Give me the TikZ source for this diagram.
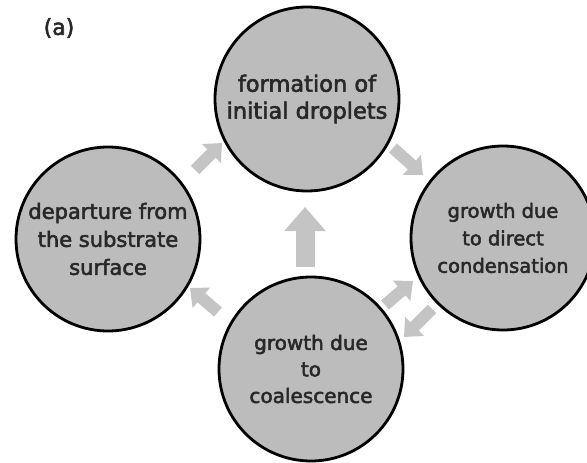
\documentclass[tikz,border=0pt]{standalone}
\usepackage{fontspec}
\setmainfont{DejaVu Sans}[FakeBold=2.5]
\usetikzlibrary{arrows.meta}
\definecolor{circfill}{RGB}{188,188,188}
\definecolor{arrfill}{RGB}{196,196,196}
\definecolor{txt}{RGB}{40,40,40}
\tikzset{
  stage/.style={circle, draw=black, line width=2.8pt, fill=circfill,
    minimum size=184pt, inner sep=0pt, align=center, text=txt},
  smallarr/.style={draw=arrfill, line width=12pt,
    -{Triangle[length=15pt,width=26pt]}},
  bigarr/.style={draw=arrfill, line width=19pt,
    -{Triangle[length=24pt,width=40pt]}}
}
\begin{document}
\begin{tikzpicture}[x=1pt,y=-1pt]
\useasboundingbox (0,0) rectangle (587,463);
\node[text=txt, font=\fontsize{22}{25}\selectfont] (lab) at (59,28) {(a)};
\node[stage, font=\fontsize{22.5}{27}\selectfont] (T) at (307,99) {formation of\\initial droplets};
\node[stage, font=\fontsize{21}{28}\selectfont] (L) at (108,239) {departure from\\the substrate\\surface};
\node[stage, font=\fontsize{19.5}{27.5}\selectfont] (R) at (503,238) {growth due\\to direct\\condensation};
\node[stage, font=\fontsize{20}{26.5}\selectfont] (B) at (311,369) {growth due\\to\\coalescence};
% arrow end points
\coordinate (a1s) at (195,170); \coordinate (a1e) at (222,143);
\coordinate (a2s) at (393,148); \coordinate (a2e) at (423,175);
\coordinate (a3s) at (218,312); \coordinate (a3e) at (190,288);
\coordinate (a4s) at (385,305); \coordinate (a4e) at (413,281);
\coordinate (a5s) at (432,309); \coordinate (a5e) at (404,337);
\coordinate (a6s) at (305,267); \coordinate (a6e) at (305,207);
\draw[smallarr] (a1s) -- (a1e);
\draw[smallarr] (a2s) -- (a2e);
\draw[smallarr] (a3s) -- (a3e);
\draw[smallarr] (a4s) -- (a4e);
\draw[smallarr] (a5s) -- (a5e);
\draw[bigarr] (a6s) -- (a6e);
\end{tikzpicture}
\end{document}
